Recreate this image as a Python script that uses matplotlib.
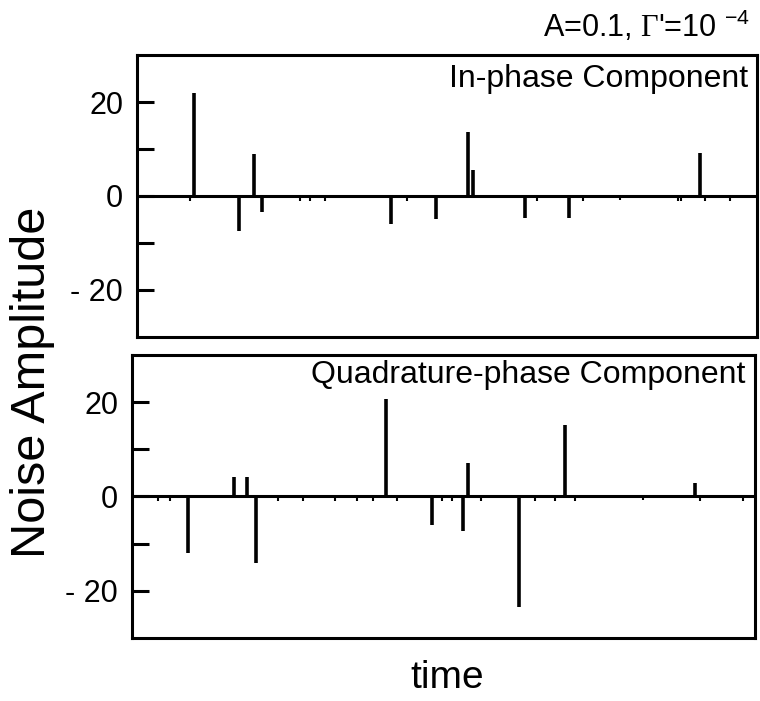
import matplotlib
matplotlib.use("Agg")
import matplotlib.pyplot as plt

plt.rcParams["font.family"] = ["Liberation Sans", "DejaVu Sans"]
plt.rcParams["mathtext.fontset"] = "custom"
plt.rcParams["mathtext.rm"] = "Liberation Serif"
plt.rcParams["mathtext.sf"] = "Liberation Sans"

# --- data (time in arbitrary units 0..100) ---
inphase_t = [8.5, 9.2, 16.5, 18.9, 20.1, 26.3, 27.9, 30.3, 40.9, 43.5, 48.2,
             53.4, 54.2, 62.6, 64.5, 69.7, 71.9, 77.9, 87.3, 87.8, 90.8, 91.6, 95.6]
inphase_v = [-1, 22, -7.5, 9, -3.4, -1, -1, -1, -6, -1, -5,
             13.6, 5.5, -4.7, -1, -4.6, -1, -0.8, -1, -1, 9.2, -1, -1]

quad_t = [4.2, 6.1, 9.0, 16.4, 18.5, 19.9, 23.4, 27.4, 32.6, 36.1, 38.7,
          40.7, 42.5, 48.1, 49.7, 51.3, 53.1, 54.0, 56.1, 62.1, 64.7, 67.9,
          69.5, 71.1, 82.0, 90.4, 91.2, 98.1]
quad_v = [-1, -1, -11.9, 4.1, 4.1, -14.2, -1, -1, -1, -1, -1,
          20.7, -1, -6.1, -1, -1, -7.4, 7.2, -1, -23.5, -1, -1,
          15.1, -1, -0.8, 2.8, -1, -1]

ytick_vals = [-20, -10, 0, 10, 20]
ytick_labels = ["- 20", "", "0", "", "20"]
panel_names = ["In-phase Component", "Quadrature-phase Component"]

fig = plt.figure(figsize=(7.6, 7.01), dpi=100)
ax1 = fig.add_axes([0.1803, 0.5193, 0.8158, 0.4022])
ax2 = fig.add_axes([0.1737, 0.0899, 0.8197, 0.4037])

for ax, t, v, name, ty in [(ax1, inphase_t, inphase_v, panel_names[0], 0.887),
                           (ax2, quad_t, quad_v, panel_names[1], 0.901)]:
    big = [i for i in range(len(v)) if abs(v[i]) > 1.5]
    small = [i for i in range(len(v)) if abs(v[i]) <= 1.5]
    ax.vlines([t[i] for i in big], 0, [v[i] for i in big], color="black", lw=2.6)
    ax.vlines([t[i] for i in small], 0, [v[i] for i in small], color="black", lw=1.5)
    ax.axhline(0, color="black", lw=2.2)
    ax.set_xlim(0, 100)
    ax.set_ylim(-30, 30)
    ax.set_xticks([])
    ax.set_yticks(ytick_vals)
    ax.set_yticklabels(ytick_labels)
    ax.tick_params(axis="y", direction="in", length=12, width=2.2,
                   labelsize=22, pad=10)
    for s in ax.spines.values():
        s.set_linewidth(2.2)
    ax.text(0.985, ty, name, transform=ax.transAxes, ha="right",
            va="baseline", fontsize=23)

fig.text(0.987, 0.947, r"A=0.1, $\Gamma$'=10 $^{\mathsf{-4}}$", ha="right",
         va="baseline", fontsize=22)
fig.text(0.043, 0.454, "Noise Amplitude", rotation=90, ha="center",
         va="center", fontsize=35)
fig.text(0.588, 0.018, "time", ha="center", va="baseline", fontsize=28)

fig.savefig("out.png", dpi=100)
